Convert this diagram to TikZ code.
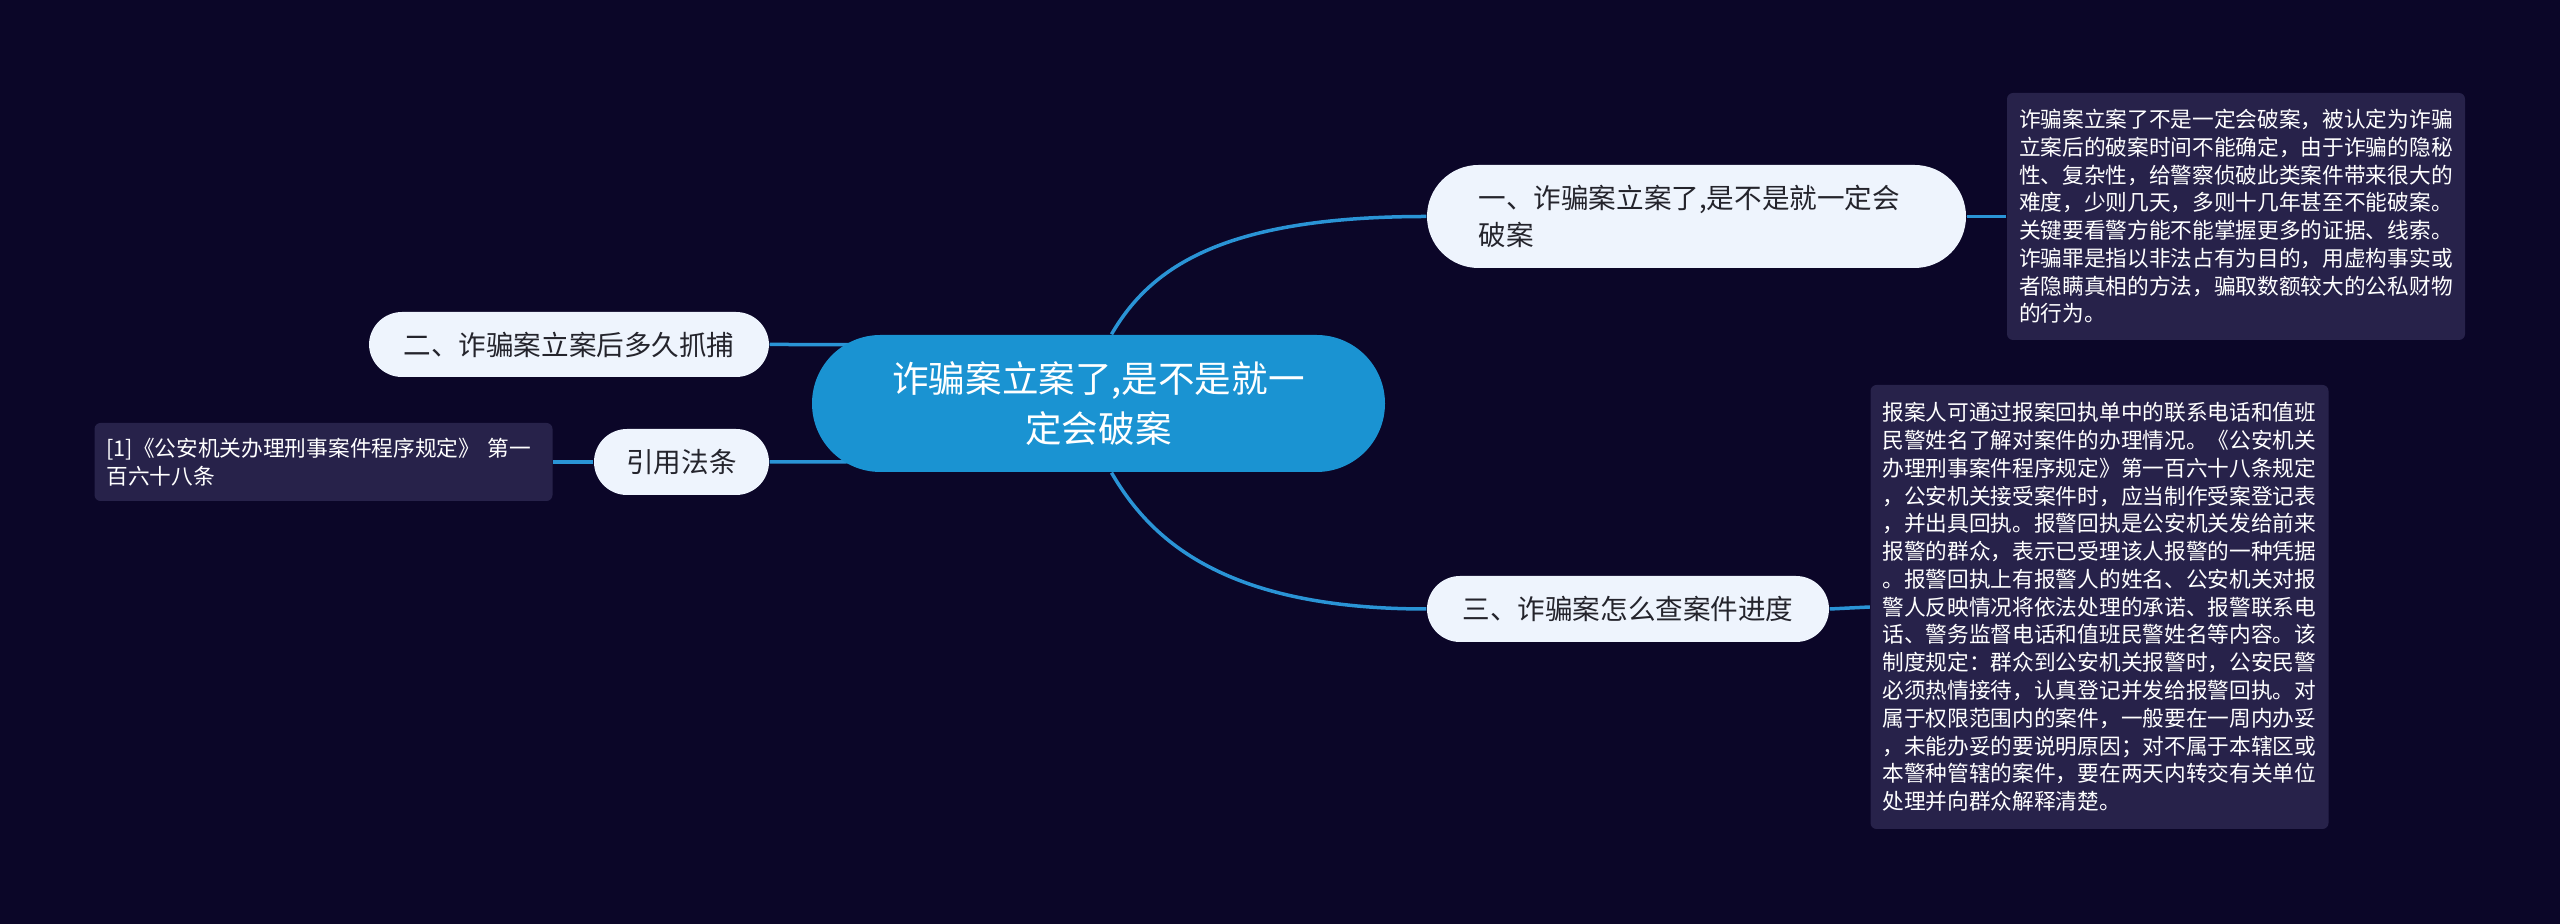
\documentclass[tikz,border=0pt]{standalone}
\usepackage{fontspec}
\setmainfont{Noto Sans CJK SC}
\usepackage{tikz}
\usetikzlibrary{calc,backgrounds}
\definecolor{night}{HTML}{0B0628}
\definecolor{hub}{HTML}{1A93D2}
\definecolor{pale}{HTML}{EEF4FD}
\definecolor{ink}{HTML}{24242C}
\definecolor{card}{HTML}{27224A}
\definecolor{wire}{HTML}{2A94D6}
\tikzset{
  topic/.style={fill=pale,text=ink,rounded corners=3.3mm,inner sep=0pt,minimum height=6.6mm,font=\fontsize{7.85pt}{10.7pt}\selectfont},
  note/.style={fill=card,text=white,rounded corners=0.6mm,align=left,inner xsep=1.2mm,inner ysep=0pt,text width=43.4mm,font=\fontsize{6.17pt}{7.9pt}\selectfont},
  link/.style={wire,line width=0.35mm},
}

\begin{document}
\begin{tikzpicture}[x=0.1mm,y=-0.1mm]
\node[fill=hub,text=white,rounded corners=6.85mm,minimum width=57.3mm,minimum height=13.7mm,inner sep=0pt,align=center,font=\fontsize{10.4pt}{14.4pt}\selectfont] (c) at (1098.5,403.5) {诈骗案立案了,是不是就一\\定会破案};
\node[topic,rounded corners=5.15mm,minimum height=10.3mm,text width=43.6mm,inner xsep=5.15mm,align=left] (n1) at (1696.5,216.5) {一、诈骗案立案了,是不是就一定会\\破案};
\node[topic,minimum width=40mm,minimum height=6.5mm] (n2) at (569,344.5) {二、诈骗案立案后多久抓捕};
\node[topic,minimum width=17.5mm] (law) at (681.5,462) {引用法条};
\node[topic,minimum width=40.2mm] (n3) at (1628,609) {三、诈骗案怎么查案件进度};
\node[note,minimum height=24.7mm] (d1) at (2236,216.5) {诈骗案立案了不是一定会破案，被认定为诈骗\\立案后的破案时间不能确定，由于诈骗的隐秘\\性、复杂性，给警察侦破此类案件带来很大的\\难度，少则几天，多则十几年甚至不能破案。\\关键要看警方能不能掌握更多的证据、线索。\\诈骗罪是指以非法占有为目的，用虚构事实或\\者隐瞒真相的方法，骗取数额较大的公私财物\\的行为。};
\node[note,minimum height=44.4mm] (d3) at (2099.5,607) {报案人可通过报案回执单中的联系电话和值班\\民警姓名了解对案件的办理情况。《公安机关\\办理刑事案件程序规定》第一百六十八条规定\\，公安机关接受案件时，应当制作受案登记表\\，并出具回执。报警回执是公安机关发给前来\\报警的群众，表示已受理该人报警的一种凭据\\。报警回执上有报警人的姓名、公安机关对报\\警人反映情况将依法处理的承诺、报警联系电\\话、警务监督电话和值班民警姓名等内容。该\\制度规定：群众到公安机关报警时，公安民警\\必须热情接待，认真登记并发给报警回执。对\\属于权限范围内的案件，一般要在一周内办妥\\，未能办妥的要说明原因；对不属于本辖区或\\本警种管辖的案件，要在两天内转交有关单位\\处理并向群众解释清楚。};
\node[note,minimum height=7.8mm] (ref) at (323.5,462) {[1]《公安机关办理刑事案件程序规定》 第一\\百六十八条};
\begin{scope}[on background layer]
\fill[night] (0,0) rectangle (2560,924);
\draw[link] ($(c.north)+(13,0)$) .. controls ($(c.north)+(53,-69)$) and ($(n1.west)+(-200,0)$) .. (n1.west);
\draw[link] ($(c.south)+(13,0)$) .. controls ($(c.south)+(53,69)$) and ($(n3.west)+(-200,0)$) .. (n3.west);
\draw[link] (n2.east) to[out=0,in=180] (c.center |- 0,346);
\draw[link] (law.east) to[out=0,in=180] (c.center |- 0,460);
\draw[link] (n1.east) -- (d1.west);
\draw[link] (n3.east) -- (d3.west);
\draw[link] (law.west) -- (ref.east);
\end{scope}
\end{tikzpicture}
\end{document}
